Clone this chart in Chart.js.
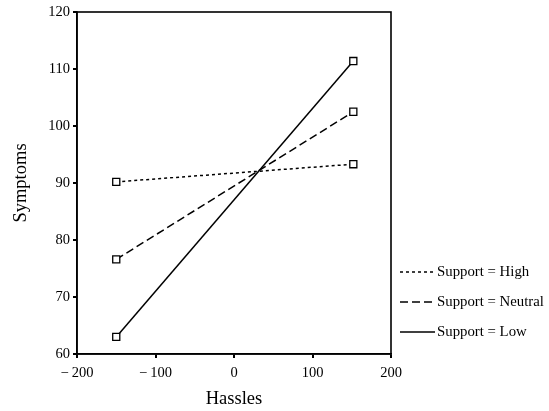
<!DOCTYPE html>
<html><head><meta charset="utf-8">
<script src="https://cdn.jsdelivr.net/npm/chart.js@4/dist/chart.umd.min.js"></script>
<style>html,body{margin:0;padding:0;background:#fff}#wrap{width:549px;height:411px}</style>
</head><body><div id="wrap"><canvas id="c" width="549" height="411"></canvas></div>
<script>
const hassles = [-150, 152];
const seriesNames = ['Support = High', 'Support = Neutral', 'Support = Low'];
const highSupport = [90.2, 93.3];
const neutralSupport = [76.6, 102.5];
const lowSupport = [63.0, 111.4];
const xTickValues = [-200, -100, 0, 100, 200];
const yTickValues = [60, 70, 80, 90, 100, 110, 120];
const xTitle = 'Hassles';
const yTitle = 'Symptoms';

const FONT = "'Liberation Serif','Times New Roman',serif";
const dashes = [[3, 3], [8, 4], []];
const seriesVals = [highSupport, neutralSupport, lowSupport];

const datasets = seriesNames.map((name, i) => ({
  label: name,
  data: hassles.map((h, j) => ({x: h, y: seriesVals[i][j]})),
  borderColor: '#000',
  borderWidth: 1.5,
  borderDash: dashes[i],
  pointStyle: 'rect',
  pointRadius: 5,
  pointBackgroundColor: '#fff',
  pointBorderColor: '#000',
  pointBorderWidth: 1.3,
  showLine: true,
  fill: false
}));

const boxAndLegend = {
  id: 'boxAndLegend',
  beforeDatasetsDraw(chart) {
    const ctx = chart.ctx, a = chart.chartArea;
    ctx.save();
    ctx.strokeStyle = '#000';
    ctx.lineWidth = 1.6;
    ctx.setLineDash([]);
    ctx.strokeRect(a.left, a.top, a.right - a.left, a.bottom - a.top);
    ctx.restore();
  },
  afterDatasetsDraw(chart) {
    const ctx = chart.ctx;
    ctx.save();
    const ys = [272, 302, 332];
    ctx.font = '14.8px ' + FONT;
    ctx.fillStyle = '#000';
    ctx.strokeStyle = '#000';
    ctx.textBaseline = 'middle';
    chart.data.datasets.forEach((ds, i) => {
      ctx.beginPath();
      ctx.lineWidth = 1.5;
      ctx.setLineDash(ds.borderDash);
      ctx.moveTo(400, ys[i]);
      ctx.lineTo(435, ys[i]);
      ctx.stroke();
      ctx.setLineDash([]);
      ctx.fillText(ds.label, 437, ys[i]);
    });
    ctx.restore();
  }
};

new Chart(document.getElementById('c'), {
  type: 'scatter',
  data: {datasets},
  options: {
    responsive: false,
    animation: false,
    layout: {padding: {left: 8, top: 12, right: 158, bottom: 0}},
    plugins: {legend: {display: false}, tooltip: {enabled: false}},
    scales: {
      x: {
        type: 'linear', min: -200, max: 200,
        afterBuildTicks: s => { s.ticks = xTickValues.map(v => ({value: v})); },
        afterFit: s => { s.height = 57; },
        ticks: {color: '#000', font: {family: FONT, size: 14.5}, padding: 6,
          callback: v => String(v).replace('-', '\u2212\u2009')},
        grid: {display: true, drawOnChartArea: false, color: '#000', lineWidth: 2, tickLength: 4},
        border: {display: true, color: '#000', width: 1.6},
        title: {display: true, text: xTitle, color: '#000', font: {family: FONT, size: 18.5}, padding: {top: 4, bottom: 1}}
      },
      y: {
        type: 'linear', min: 60, max: 120,
        afterBuildTicks: s => { s.ticks = yTickValues.map(v => ({value: v})); },
        afterFit: s => { s.width = 69; },
        ticks: {color: '#000', font: {family: FONT, size: 14.5}, padding: 3},
        grid: {display: true, drawOnChartArea: false, color: '#000', lineWidth: 2, tickLength: 4},
        border: {display: true, color: '#000', width: 1.6},
        title: {display: true, text: yTitle, color: '#000', font: {family: FONT, size: 18.5}, padding: {top: 2, bottom: 4}}
      }
    }
  },
  plugins: [boxAndLegend]
});
</script></body></html>
